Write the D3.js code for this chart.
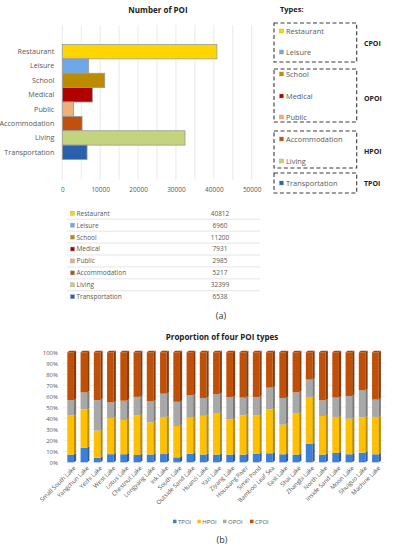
<!DOCTYPE html>
<html><head><meta charset="utf-8">
<script src="https://cdn.jsdelivr.net/npm/d3@7"></script>
<style>html,body{margin:0;padding:0;background:#fff;}svg{display:block;font-family:"Open Sans","Noto Sans",sans-serif;}</style>
</head><body>
<svg id="c" width="394" height="550"></svg>
<script>
// ---------- data ----------
const poiTypes = ["Restaurant","Leisure","School","Medical","Public","Accommodation","Living","Transportation"];
const poiCounts = [40812,6960,11200,7931,2985,5217,32399,6538];
const poiColors = ["#FFD500","#6FA8E8","#BB8C00","#B00000","#F0B07A","#C05010","#C4D47C","#2A60AC"];
const xTicksTop = [0,10000,20000,30000,40000,50000];
const groupNames = ["CPOI","OPOI","HPOI","TPOI"];
const groupMembers = [[0,1],[2,3,4],[5,6],[7]];

const lakes = ["Small South Lake","Yangchun Lake","Yezhi Lake","West Lake","Lotus Lake","Chestnut Lake","Longyang Lake","Ink Lake","South Lake","Outside Sand Lake","Huanzi Lake","Yazi Lake","Ziyang Lake","Houxiang River","Simei Pond","Bamboo Leaf Sea","East Lake","Shai Lake","Zhangbi Lake","North Lake","Inside Sand Lake","Moon Lake","Shuiguo Lake","Machine Lake"];
const tpoi = [7,13.3,4.2,7.4,7.3,6.6,7.1,7.5,4.5,7.7,7.1,7,7,7,7.6,8.2,7.3,7,16.7,7,8.5,7.3,8.8,7.3];
const hpoi = [35.5,34.7,24.6,32.8,31.2,36.2,29.2,33.7,28.5,32.8,35.1,37.8,32,35.7,35.1,40,26.9,37.2,42.7,35.1,32.7,32.4,32.1,33.9];
const opoi = [14,15.5,27.7,14.3,17.5,16.7,19.2,21.2,22,20.5,16.3,17.2,20.4,16.1,16.7,19.7,24.3,19.4,15.8,14.3,17.6,20.6,24.6,15.8];
const cpoi = [43.5,36.5,43.5,45.5,44,40.5,44.5,37.6,45,39,41.5,38,40.6,41.2,40.6,32.1,41.5,36.4,24.8,43.6,41.2,39.7,34.5,43];
const seriesNames = ["TPOI","HPOI","OPOI","CPOI"];
const seriesColors = ["#3D7FD6","#FFC000","#A8A8A8","#C05008"];
const yTicksBottom = [0,0.1,0.2,0.3,0.4,0.5,0.6,0.7,0.8,0.9,1.0];

const svg = d3.select("#c");
const txtCol = "#595959";

// ---------- chart (a) ----------
svg.append("text").attr("x",158).attr("y",13).attr("text-anchor","middle")
  .attr("font-size",8).attr("font-weight","bold").attr("fill","#222").text("Number of POI");

const xA = d3.scaleLinear().domain([0,50000]).range([62.3,251.7]);
const yA = d3.scaleBand().domain(poiTypes).range([44.5,159.5]).padding(0);

const gA = svg.append("g");
gA.selectAll("line.grid").data(d3.range(0,50001,5000)).join("line")
  .attr("x1",d=>xA(d)).attr("x2",d=>xA(d)).attr("y1",25).attr("y2",180)
  .attr("stroke","#e4e4e4").attr("stroke-width",0.8);

gA.selectAll("rect.bar").data(poiTypes).join("rect")
  .attr("x",xA(0)).attr("y",d=>yA(d)).attr("width",(d,i)=>xA(poiCounts[i])-xA(0))
  .attr("height",yA.bandwidth()).attr("fill",(d,i)=>poiColors[i])
  .attr("stroke","#9a9a9a").attr("stroke-width",0.8);

const axL = d3.axisLeft(yA).tickSize(0).tickPadding(8);
const gl = gA.append("g").attr("transform",`translate(${xA(0)},0)`).call(axL);
gl.select(".domain").remove();
gl.selectAll("text").attr("font-size",7.2).attr("fill",txtCol).attr("font-family","Open Sans");

const axB = d3.axisBottom(xA).tickValues(xTicksTop).tickFormat(d3.format("d")).tickSize(0).tickPadding(5);
const gb = gA.append("g").attr("transform",`translate(0,182)`).call(axB);
gb.select(".domain").remove();
gb.selectAll("text").attr("font-size",6.5).attr("fill",txtCol).attr("font-family","Open Sans");

// legend with groups
svg.append("text").attr("x",280).attr("y",12).attr("font-size",7.5).attr("font-weight","bold").attr("fill","#222").text("Types:");
const itemY = [31,52,74,96,117,139,161,183];
const boxes = [[23,62],[69,122],[131,168],[173,193]];
const labY = [43,98,151,183];
groupNames.forEach((g,gi)=>{
  svg.append("rect").attr("x",274).attr("y",boxes[gi][0]).attr("width",82.7).attr("height",boxes[gi][1]-boxes[gi][0])
    .attr("fill","none").attr("stroke","#3a3a3a").attr("stroke-width",1.1).attr("stroke-dasharray","4,2.5");
  svg.append("text").attr("x",364).attr("y",labY[gi]+2.5).attr("font-size",7).attr("font-weight","bold").attr("fill","#222").text(g);
});
poiTypes.forEach((t,i)=>{
  svg.append("rect").attr("x",279.5).attr("y",itemY[i]-2).attr("width",4).attr("height",4).attr("fill",poiColors[i]).attr("stroke","#999").attr("stroke-width",0.4);
  svg.append("text").attr("x",286).attr("y",itemY[i]+2.6).attr("font-size",7.4).attr("fill",txtCol).text(t);
});

// table
const rowY = d3.scaleBand().domain(poiTypes).range([207.3,302.7]);
poiTypes.forEach((t,i)=>{
  const cy = rowY(t)+rowY.bandwidth()/2;
  svg.append("rect").attr("x",70.5).attr("y",cy-2).attr("width",4).attr("height",4).attr("fill",poiColors[i]).attr("stroke","#999").attr("stroke-width",0.4);
  svg.append("text").attr("x",76.5).attr("y",cy+2.4).attr("font-size",6.5).attr("fill",txtCol).text(t);
  svg.append("text").attr("x",220).attr("y",cy+2.4).attr("text-anchor","middle").attr("font-size",6.5).attr("fill",txtCol).text(poiCounts[i]);
  if(i<poiTypes.length-1){
    svg.append("line").attr("x1",67).attr("x2",260).attr("y1",rowY(t)+rowY.bandwidth()).attr("y2",rowY(t)+rowY.bandwidth())
      .attr("stroke","#d8d8d8").attr("stroke-width",0.7);
  }
});
svg.append("text").attr("x",221).attr("y",319).attr("text-anchor","middle").attr("font-size",9).attr("fill","#333").text("(a)");

// ---------- chart (b) ----------
svg.append("text").attr("x",222).attr("y",340).attr("text-anchor","middle")
  .attr("font-size",8).attr("font-weight","bold").attr("fill","#222").text("Proportion of four POI types");

const yB = d3.scaleLinear().domain([0,1]).range([462.3,352.3]);
const xB = d3.scaleBand().domain(lakes).range([64,382]).paddingInner(0.5).paddingOuter(0.25);
const gB = svg.append("g");
gB.selectAll("line.g").data(yTicksBottom).join("line")
  .attr("x1",63).attr("x2",385).attr("y1",d=>yB(d)).attr("y2",d=>yB(d))
  .attr("stroke","#ececec").attr("stroke-width",0.8);
const ayB = d3.axisLeft(yB).tickValues(yTicksBottom).tickFormat(d3.format(".0%")).tickSize(0).tickPadding(4);
const gy = gB.append("g").attr("transform","translate(62,0)").call(ayB);
gy.select(".domain").remove();
gy.selectAll("text").attr("font-size",6).attr("fill",txtCol).attr("font-family","Open Sans");

const stackData = lakes.map((l,i)=>({lake:l,TPOI:tpoi[i],HPOI:hpoi[i],OPOI:opoi[i],CPOI:cpoi[i]}));
const stacked = d3.stack().keys(seriesNames).offset(d3.stackOffsetExpand)(stackData);
const bw = xB.bandwidth(), dx = 2.2, dy = 1.6;
stacked.forEach((s,si)=>{
  const col = seriesColors[si];
  const dark = d3.color(col).darker(0.9).formatHex();
  const g = gB.append("g");
  g.selectAll("rect").data(s).join("rect")
    .attr("x",d=>xB(d.data.lake)).attr("y",d=>yB(d[1])).attr("width",bw).attr("height",d=>yB(d[0])-yB(d[1]))
    .attr("fill",col);
  g.selectAll("polygon.side").data(s).join("polygon")
    .attr("points",d=>{const x=xB(d.data.lake)+bw, y0=yB(d[0]), y1=yB(d[1]);
      return [[x,y0],[x+dx,y0-dy],[x+dx,y1-dy],[x,y1]].map(p=>p.join(",")).join(" ");})
    .attr("fill",dark);
  if(si===stacked.length-1){
    g.selectAll("polygon.top").data(s).join("polygon")
      .attr("points",d=>{const x=xB(d.data.lake), y=yB(d[1]);
        return [[x,y],[x+dx,y-dy],[x+bw+dx,y-dy],[x+bw,y]].map(p=>p.join(",")).join(" ");})
      .attr("fill",d3.color(col).darker(0.4).formatHex());
  }
});

const axXB = d3.axisBottom(xB).tickSize(0).tickPadding(0);
const gx = gB.append("g").attr("transform","translate(0,465)").call(axXB);
gx.select(".domain").remove();
gx.selectAll("text").attr("font-size",6).attr("fill",txtCol).attr("font-family","Open Sans")
  .attr("text-anchor","end").attr("dy","0.3em").attr("transform",`translate(${bw/2+1},2) rotate(-45)`);

// legend (b)
const legX = [173,197.3,223,250];
seriesNames.forEach((n,i)=>{
  svg.append("rect").attr("x",legX[i]).attr("y",519.7).attr("width",3.5).attr("height",3.5).attr("fill",seriesColors[i]);
  svg.append("text").attr("x",legX[i]+5).attr("y",523.6).attr("font-size",6).attr("fill",txtCol).text(n);
});
svg.append("text").attr("x",222).attr("y",543).attr("text-anchor","middle").attr("font-size",9).attr("fill","#333").text("(b)");
</script>
</body></html>
